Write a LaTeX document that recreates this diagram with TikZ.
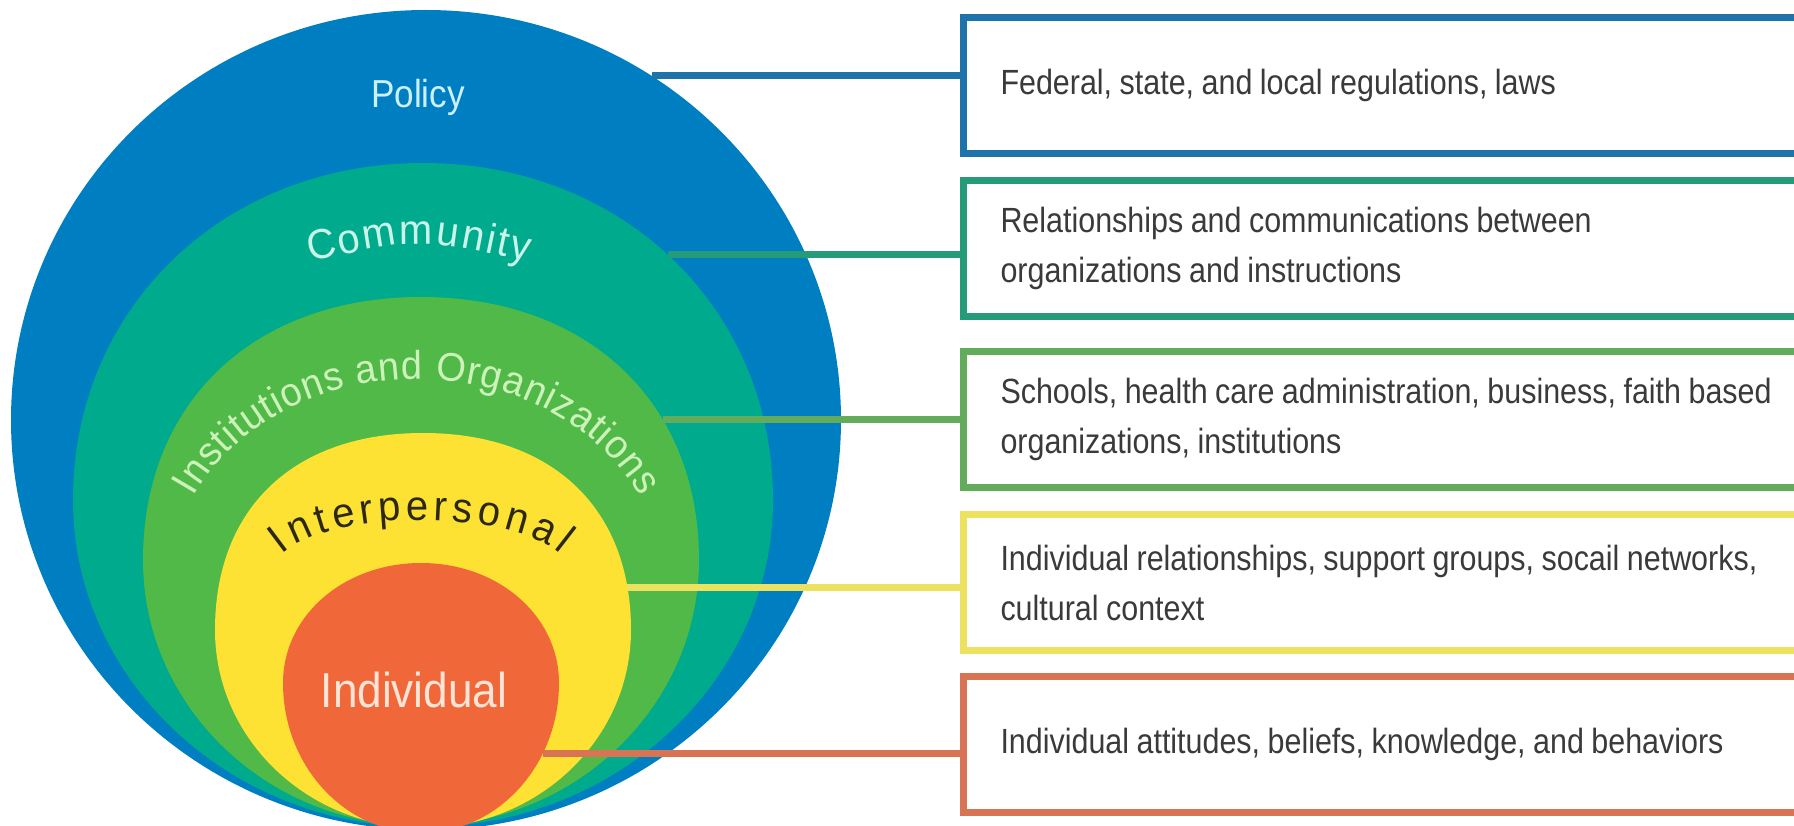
\documentclass[tikz,border=0pt]{standalone}
\usepackage{fontspec}
\setmainfont{Liberation Sans}
\newfontfamily\boxfont[FakeStretch=0.87]{Liberation Sans}
\newfontfamily\lblfont[FakeStretch=0.9]{Liberation Sans}
\newfontfamily\arcfont[FakeStretch=0.95]{Liberation Sans}
\usetikzlibrary{decorations.text,intersections}

\definecolor{blueF}{RGB}{0,126,194}
\definecolor{tealF}{RGB}{0,170,140}
\definecolor{greenF}{RGB}{80,185,72}
\definecolor{yellowF}{RGB}{253,226,52}
\definecolor{orangeF}{RGB}{240,104,58}
\definecolor{blueB}{RGB}{30,116,170}
\definecolor{tealB}{RGB}{38,155,122}
\definecolor{greenB}{RGB}{98,172,92}
\definecolor{yellowB}{RGB}{236,226,96}
\definecolor{orangeB}{RGB}{216,116,84}
\definecolor{boxtext}{RGB}{58,58,58}
\definecolor{policyT}{RGB}{205,240,255}
\definecolor{commT}{RGB}{200,244,234}
\definecolor{instT}{RGB}{205,242,185}
\definecolor{interT}{RGB}{45,40,20}
\definecolor{indivT}{RGB}{253,228,214}

% egg-shaped closed path: cx, cy, half-width, top extent, bottom extent, top squareness, bottom squareness
\newcommand{\eggpath}[7]{(#1,{#2-#4}) .. controls ({#1+#6*#3},{#2-#4}) and ({#1+#3},{#2-#6*#4}) .. ({#1+#3},#2) .. controls ({#1+#3},{#2+#7*#5}) and ({#1+#7*#3},{#2+#5}) .. (#1,{#2+#5}) .. controls ({#1-#7*#3},{#2+#5}) and ({#1-#3},{#2+#7*#5}) .. ({#1-#3},#2) .. controls ({#1-#3},{#2-#6*#4}) and ({#1-#6*#3},{#2-#4}) .. cycle}

\begin{document}
\begin{tikzpicture}[x=1pt,y=-1pt,
  infobox/.style={draw, line width=7pt, fill=white, anchor=north west,
    minimum width=900pt, minimum height=136pt, text width=826pt,
    inner xsep=37pt, inner ysep=0pt, align=left,
    font=\boxfont\fontsize{35}{50}\selectfont,
    execute at begin node={\spaceskip=7.5pt plus 3pt minus 2pt\relax},
    text=boxtext},
  conn/.style={line width=7pt},
  lbl/.style={inner sep=0pt}]
\useasboundingbox (0,0) rectangle (1794,826);
\clip (0,0) rectangle (1794,826);

% nested layers
\fill[blueF, name path=pBlue] \eggpath{426}{420}{415}{410}{410}{0.5523}{0.5523};
\fill[tealF, name path=pTeal] \eggpath{423}{500}{350}{337}{327}{0.57}{0.5523};
\fill[greenF, name path=pGreen] \eggpath{421}{560}{278}{263}{266}{0.6}{0.5523};
\fill[yellowF, name path=pYellow] \eggpath{423}{630}{208}{197}{198}{0.62}{0.5523};
\fill[orangeF, name path=pOrange] \eggpath{421}{683}{138}{120}{150}{0.56}{0.5523};

% connector start points on the layer edges
\path[name path=h1] (900,76) -- (420,76);
\path[name path=h2] (900,255) -- (420,255);
\path[name path=h3] (900,420) -- (420,420);
\path[name path=h4] (900,587) -- (420,587);
\path[name path=h5] (900,754) -- (420,754);
\path[name intersections={of=pBlue and h1, sort by=h1, by={c1}}];
\path[name intersections={of=pTeal and h2, sort by=h2, by={c2}}];
\path[name intersections={of=pGreen and h3, sort by=h3, by={c3}}];
\path[name intersections={of=pYellow and h4, sort by=h4, by={c4}}];
\path[name intersections={of=pOrange and h5, sort by=h5, by={c5}}];

% description boxes
\node[infobox, draw=blueB] (b1) at (960,14) {Federal, state, and local regulations, laws};
\node[infobox, draw=tealB] (b2) at (960,177) {Relationships and communications between\\organizations and instructions};
\node[infobox, draw=greenB] (b3) at (960,348) {Schools, health care administration, business, faith based\\organizations, institutions};
\node[infobox, draw=yellowB] (b4) at (960,511) {Individual relationships, support groups, socail networks,\\cultural context};
\node[infobox, draw=orangeB] (b5) at (960,673) {Individual attitudes, beliefs, knowledge, and behaviors};

% connectors
\draw[conn, draw=blueB] (c1) -- (c1 -| b1.west);
\draw[conn, draw=tealB] (c2) -- (c2 -| b2.west);
\draw[conn, draw=greenB] (c3) -- (c3 -| b3.west);
\draw[conn, draw=yellowB] (c4) -- (c4 -| b4.west);
\draw[conn, draw=orangeB] (c5) -- (c5 -| b5.west);

% layer labels
\node[lbl, font=\lblfont\fontsize{39}{45}\selectfont, text=policyT] (lPolicy) at (418,97) {Policy};
\path[decorate, decoration={text along path,
  text={|\arcfont\fontsize{42}{48}\selectfont|Community},
  text color=commT, text align=fit to path}]
  (310,262) .. controls (418,238) .. (528,262);
\path[decorate, decoration={text along path,
  text={|\arcfont\fontsize{40}{46}\selectfont|Institutions and Organizations},
  text color=instT, text align=fit to path}]
  (194,496.8) arc[start angle=-155.5, end angle=-24.5, x radius=245, y radius=201];
\path[decorate, decoration={text along path,
  text={|\arcfont\fontsize{42}{48}\selectfont|Interpersonal},
  text color=interT, text align=fit to path}]
  (282,554.3) arc[start angle=-157.9, end angle=-22.1, x radius=150, y radius=55];
\node[lbl, font=\lblfont\fontsize{49}{55}\selectfont, text=indivT] (lIndiv) at (414,690) {Individual};
\end{tikzpicture}
\end{document}
